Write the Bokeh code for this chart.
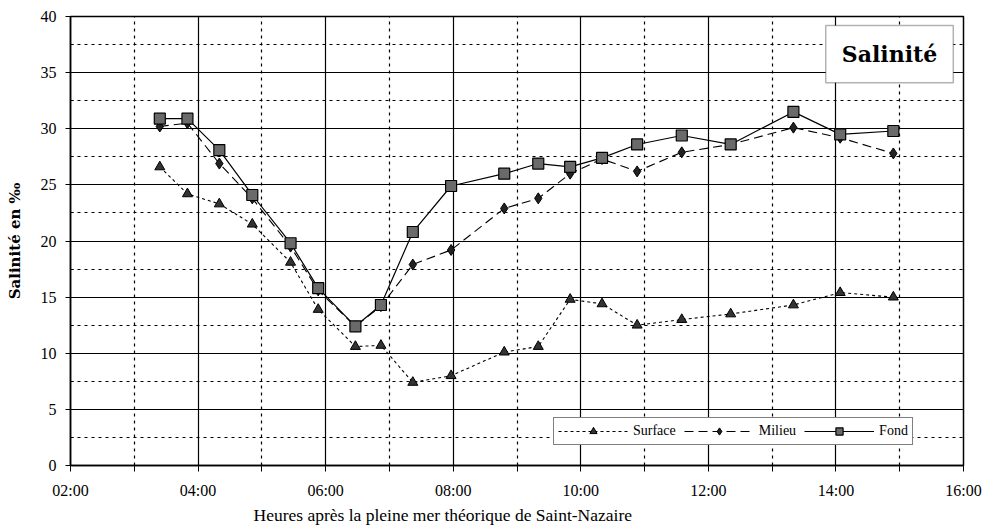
from bokeh.plotting import figure
from bokeh.models import (Range1d, FixedTicker, Legend, LegendItem, BoxAnnotation,
                          Label, Title, ColumnDataSource)
from bokeh.embed import file_html
from bokeh.resources import INLINE

# ---- data ----
times = ["03:24", "03:50", "04:20", "04:51", "05:27", "05:53", "06:28", "06:52",
         "07:22", "07:58", "08:48", "09:20", "09:50", "10:20", "10:53", "11:35",
         "12:21", "13:20", "14:04", "14:54"]
surface = [26.6, 24.2, 23.3, 21.5, 18.1, 13.9, 10.6, 10.7, 7.4, 8.0,
           10.1, 10.6, 14.8, 14.4, 12.5, 13.0, 13.5, 14.3, 15.4, 15.0]
milieu = [30.2, 30.5, 26.9, 23.8, 19.5, 15.6, 12.4, 14.2, 17.9, 19.2,
          22.9, 23.8, 26.0, 27.3, 26.2, 27.9, 28.6, 30.1, 29.2, 27.8]
fond = [30.9, 30.9, 28.1, 24.1, 19.8, 15.8, 12.4, 14.3, 20.8, 24.9,
        26.0, 26.9, 26.6, 27.4, 28.6, 29.4, 28.6, 31.5, 29.5, 29.8]

x_tick_hours = [2, 4, 6, 8, 10, 12, 14, 16]
x_tick_labels = ["02:00", "04:00", "06:00", "08:00", "10:00", "12:00", "14:00", "16:00"]
y_ticks = [0, 5, 10, 15, 20, 25, 30, 35, 40]

title_text = "Salinité"
x_label = "Heures après la pleine mer théorique de Saint-Nazaire"
y_label = "Salinité en ‰"

FONT = "Liberation Serif"
BOLD_FONT = "DejaVu Serif"


def to_hours(t):
    h, m = t.split(":")
    return int(h) + int(m) / 60.0


hours = [to_hours(t) for t in times]
src = ColumnDataSource(dict(x=hours, surface=surface, milieu=milieu, fond=fond))

p = figure(width=993, height=531, output_backend="svg", toolbar_location=None,
           x_range=Range1d(2, 16), y_range=Range1d(0, 40),
           min_border_left=70, min_border_right=30, min_border_top=16,
           min_border_bottom=66, background_fill_color="white",
           border_fill_color="white")
p.outline_line_color = "black"
p.outline_line_width = 1.5

# axes / ticks
p.xaxis.ticker = FixedTicker(ticks=x_tick_hours,
                             minor_ticks=[h + 1 for h in x_tick_hours[:-1]])
p.xaxis.major_label_overrides = {h: l for h, l in zip(x_tick_hours, x_tick_labels)}
p.yaxis.ticker = FixedTicker(ticks=y_ticks, minor_ticks=[v + 2.5 for v in y_ticks[:-1]])

for ax in (p.xaxis[0], p.yaxis[0]):
    ax.axis_line_color = "black"
    ax.axis_line_width = 1.5
    ax.major_tick_line_color = "black"
    ax.minor_tick_line_color = "black"
    ax.major_label_text_font = FONT
    ax.major_label_text_font_size = "16px"
    ax.major_label_text_color = "black"

p.xaxis.major_tick_in = 0
p.xaxis.major_tick_out = 6
p.xaxis.minor_tick_in = 0
p.xaxis.minor_tick_out = 6
p.xaxis.major_label_standoff = 10
p.xaxis.major_label_text_align = "right"

p.yaxis.major_tick_in = 4
p.yaxis.major_tick_out = 5
p.yaxis.minor_tick_in = 3
p.yaxis.minor_tick_out = 0
p.yaxis.major_label_standoff = 9
p.yaxis.axis_label = y_label
p.yaxis.axis_label_text_font = BOLD_FONT
p.yaxis.axis_label_text_font_style = "bold"
p.yaxis.axis_label_text_font_size = "15px"
p.yaxis.axis_label_text_color = "black"
p.yaxis.axis_label_standoff = 14

# grids
for g in (p.xgrid[0], p.ygrid[0]):
    g.grid_line_color = "black"
    g.grid_line_width = 1.2
    g.minor_grid_line_color = "black"
    g.minor_grid_line_width = 1.2
    g.minor_grid_line_dash = "3 4"

# series
r_s_line = p.line("x", "surface", source=src, line_color="black", line_width=1.1,
                  line_dash="3 3")
r_s_pt = p.scatter("x", "surface", source=src, marker="triangle", size=10,
                   fill_color="#333333", line_color="black")
r_m_line = p.line("x", "milieu", source=src, line_color="black", line_width=1.1,
                  line_dash="9 5")
r_m_pt = p.scatter("x", "milieu", source=src, marker="diamond", size=11,
                   fill_color="#222222", line_color="black")
r_f_line = p.line("x", "fond", source=src, line_color="black", line_width=1.2)
r_f_pt = p.scatter("x", "fond", source=src, marker="square", size=11,
                   fill_color="#6a6a6a", line_color="black", line_width=1.2)

legend = Legend(items=[
    LegendItem(label="Surface", renderers=[r_s_line, r_s_pt]),
    LegendItem(label="Milieu", renderers=[r_m_line, r_m_pt]),
    LegendItem(label="Fond", renderers=[r_f_line, r_f_pt]),
], orientation="horizontal", location=(483, 20))
legend.label_text_font = FONT
legend.label_text_font_size = "14px"
legend.label_text_color = "black"
legend.glyph_width = 70
legend.glyph_height = 18
legend.label_height = 18
legend.label_standoff = 5
legend.spacing = 8
legend.padding = 4
legend.margin = 0
legend.border_line_color = "black"
legend.border_line_width = 1.2
legend.background_fill_color = "white"
legend.background_fill_alpha = 1
p.add_layout(legend)

# title box
box = BoxAnnotation(left=13.84, right=15.84, bottom=34.1, top=39.2,
                    fill_color="white", fill_alpha=1, line_color="black",
                    line_width=1.5)
p.add_layout(box)
p.add_layout(Label(x=14.84, y=36.65, text=title_text, text_align="center",
                   text_baseline="middle", text_font=BOLD_FONT, text_font_style="bold",
                   text_font_size="22px", text_color="black"))

# x-axis label (shifted like the reference)
p.add_layout(Title(text=x_label, align="left", offset=183, text_font=FONT,
                   text_font_size="17.5px", text_font_style="normal",
                   text_color="black", standoff=2), "below")

open("out.html", "w").write(file_html(p, INLINE))
